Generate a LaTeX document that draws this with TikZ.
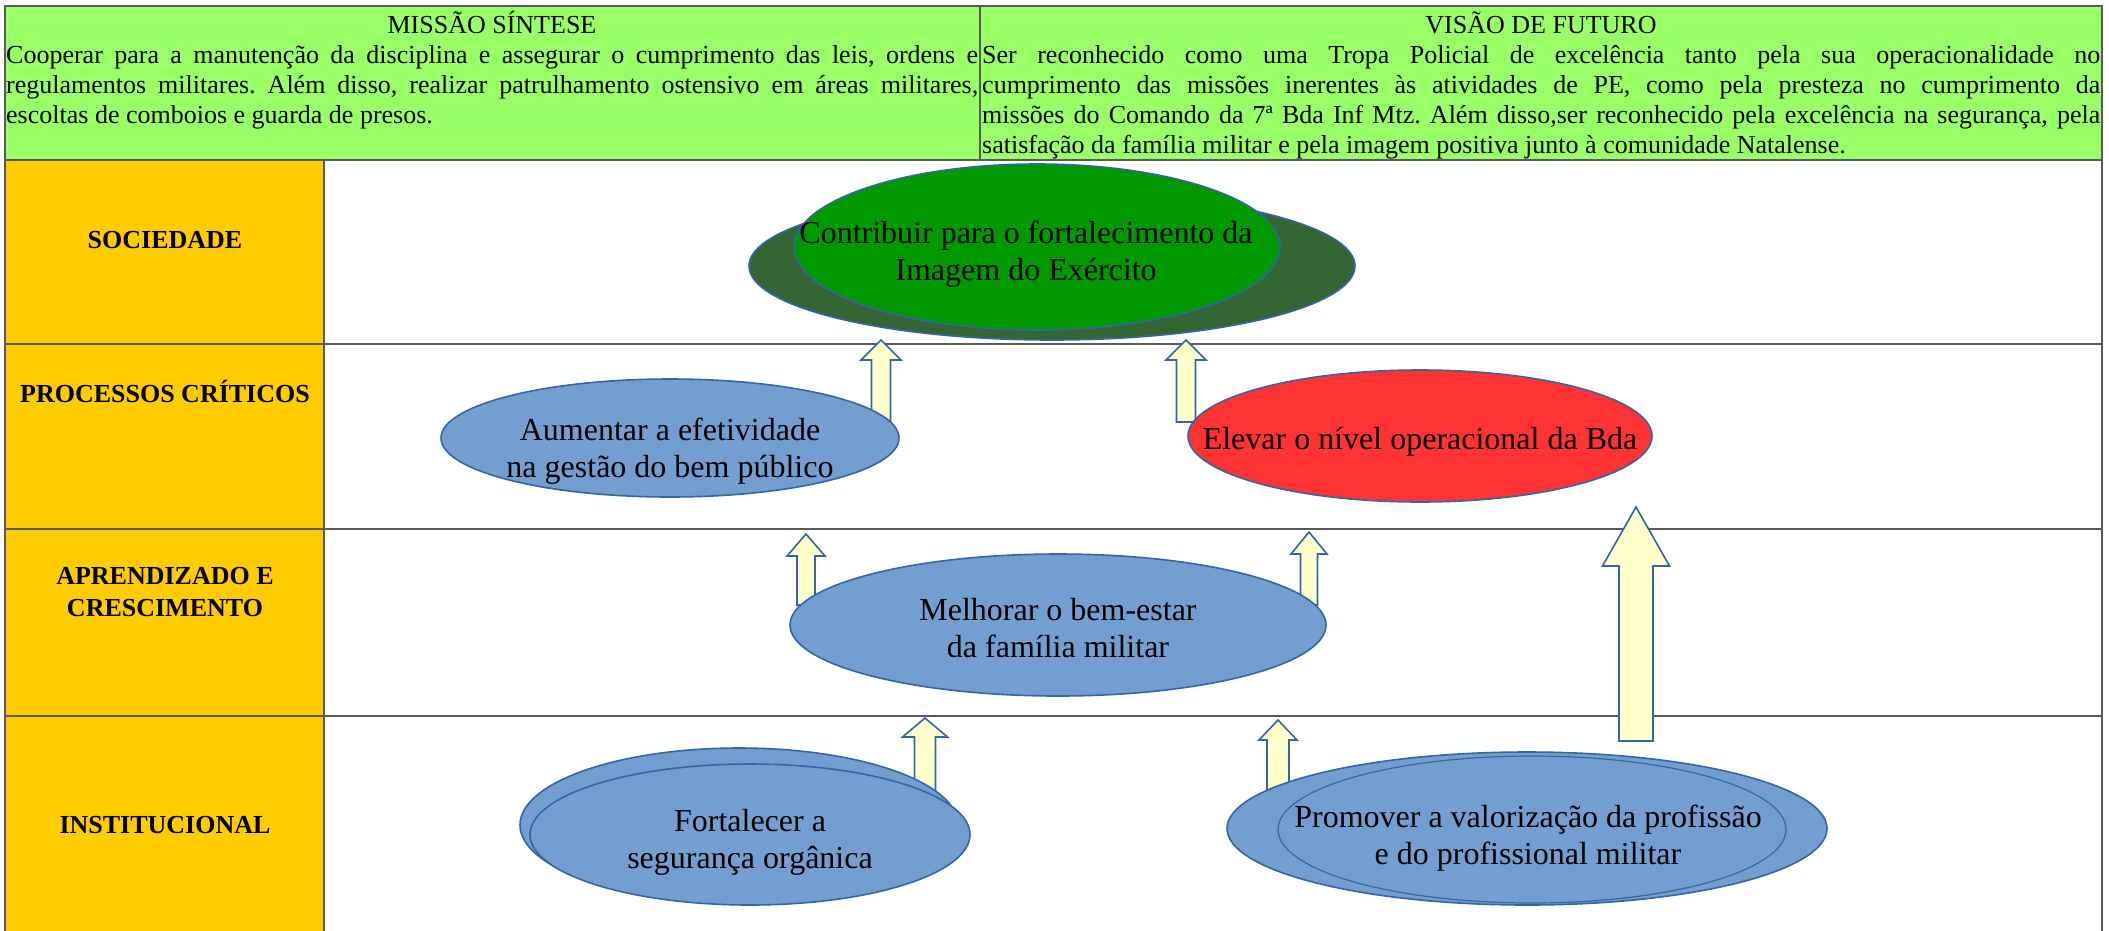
\documentclass[tikz,border=0pt]{standalone}
\usepackage{fontspec}
\setmainfont{Liberation Serif}
\usepackage{tikz}
\usetikzlibrary{shapes.geometric,calc}
\pgfdeclarelayer{bg}
\pgfsetlayers{bg,main}
\frenchspacing

\definecolor{hdrgreen}{HTML}{99FF66}
\definecolor{rowyellow}{HTML}{FFCC00}
\definecolor{soldark}{HTML}{336633}
\definecolor{solgreen}{HTML}{009900}
\definecolor{objblue}{HTML}{729FCF}
\definecolor{objline}{HTML}{3465A4}
\definecolor{objred}{HTML}{FF3333}
\definecolor{arrowfill}{HTML}{FFFFCC}
\definecolor{gridline}{HTML}{5A5A5A}

% one justified header line
\newcommand{\jline}[2]{\makebox[#1][s]{\strut#2}}
% upward block arrow: base, tip, shaft half width, head half width, head length
\newcommand{\blockup}[5]{%
  \draw[arrowbox] let \p1=(#1), \p2=(#2) in
    (\x1-#3pt,\y1) -- (\x1-#3pt,\y2-#5pt) -- (\x1-#4pt,\y2-#5pt) -- (\x2,\y2)
    -- (\x1+#4pt,\y2-#5pt) -- (\x1+#3pt,\y2-#5pt) -- (\x1+#3pt,\y1) -- cycle;}

\begin{document}
\begin{tikzpicture}[x=1pt,y=-1pt,
    goal/.style={ellipse, draw=objline, line width=1.6pt, inner sep=0pt},
    goaltext/.style={align=center, inner sep=0pt, font=\fontsize{32}{37}\selectfont},
    rowlabel/.style={align=center, inner sep=0pt, font=\bfseries\fontsize{26}{32}\selectfont},
    hdr/.style={inner sep=0pt, font=\fontsize{26}{30}\selectfont},
    grid/.style={draw=gridline, line width=1.3pt},
    arrowbox/.style={draw=objline, fill=arrowfill, line width=1.6pt}]
        \useasboundingbox (0,0) rectangle (2109,930);
        % header
        \node (missao) [hdr, anchor=base] at (492,33) {MISSÃO SÍNTESE};
        \node (visao) [hdr, anchor=base] at (1541,33) {VISÃO DE FUTURO};
        \node (missaotxt) [hdr, anchor=north west, align=left] at (6,42) {%
                \jline{972pt}{Cooperar para a manutenção da disciplina e assegurar o cumprimento das leis, ordens e}\\
                \jline{972pt}{regulamentos militares. Além disso, realizar patrulhamento ostensivo em áreas militares,}\\
                \strut escoltas de comboios e guarda de presos.};
        \node (visaotxt) [hdr, anchor=north west, align=left] at (982,42) {%
                \jline{1118pt}{Ser reconhecido como uma Tropa Policial de excelência tanto pela sua operacionalidade no}\\
                \jline{1118pt}{cumprimento das missões inerentes às atividades de PE, como pela presteza no cumprimento da}\\
                \jline{1118pt}{missões do Comando da 7ª Bda Inf Mtz. Além disso,ser reconhecido pela excelência na segurança, pela}\\
                \strut satisfação da família militar e pela imagem positiva junto à comunidade Natalense.};
        % perspectives
        \node (sociedade) [rowlabel, anchor=base] at (165,248) {SOCIEDADE};
        \node (processos) [rowlabel, anchor=base] at (165,402) {PROCESSOS CRÍTICOS};
        \node (aprendizado) [rowlabel] at (165,592) {APRENDIZADO E\\CRESCIMENTO};
        \node (institucional) [rowlabel, anchor=base] at (165,833) {INSTITUCIONAL};
        % objectives
        \node (socback) [goal, fill=soldark, minimum width=606, minimum height=148] at (1052,266) {};
        \node (imagem) [goal, fill=solgreen, minimum width=486, minimum height=166,
                label={[goaltext, xshift=-11pt, yshift=-7pt]center:{Contribuir para o fortalecimento da\\Imagem do Exército}}] at (1037,247) {};
        \node (gestao) [goal, fill=objblue, minimum width=458, minimum height=118,
                label={[goaltext, yshift=-13pt]center:{Aumentar a efetividade\\na gestão do bem público}}] at (670,438) {};
        \node (operacional) [goal, fill=objred, minimum width=464, minimum height=132,
                label={[goaltext, yshift=-6pt]center:{Elevar o nível operacional da Bda}}] at (1420,436) {};
        \node (familia) [goal, fill=objblue, minimum width=536, minimum height=142,
                label={[goaltext, yshift=-3pt]center:{Melhorar o bem-estar\\da família militar}}] at (1058,625) {};
        \node (segback) [goal, fill=objblue, minimum width=438, minimum height=154] at (739,825) {};
        \node (seguranca) [goal, fill=objblue, minimum width=440, minimum height=141,
                label={[goaltext, yshift=-8pt]center:{Fortalecer a\\segurança orgânica}}] at (750,834.5) {};
        \node (profback) [goal, fill=objblue, minimum width=600, minimum height=153] at (1527,828.5) {};
        \node (profissao) [goal, fill=objblue, line width=1.2pt, minimum width=508, minimum height=147,
                label={[goaltext, xshift=-4pt, yshift=-8.5pt]center:{Promover a valorização da profissão\\e do profissional militar}}] at (1532,829.5) {};
        % arrow ends
        \coordinate (g1) at (881,422);  \coordinate (i1) at (881,340);
        \coordinate (o1) at (1186,422); \coordinate (i2) at (1186,340);
        \coordinate (f1) at (806,605);  \coordinate (g2) at (806,534);
        \coordinate (f2) at (1309,605); \coordinate (o2) at (1309,532);
        \coordinate (s1) at (925,796);  \coordinate (f3) at (925,718);
        \coordinate (p1) at (1278,792); \coordinate (f4) at (1278,720);
        \coordinate (p2) at (1636,741); \coordinate (o3) at (1636,507);
        \begin{pgfonlayer}{bg}
                \fill[hdrgreen] (5,6) rectangle (2102,160);
                \fill[rowyellow] (5,160) rectangle (324,932);
                \draw[grid] (5,932) -- (5,6) -- (2102,6) -- (2102,932);
                \draw[grid] (980,6) -- (980,160);
                \draw[grid] (5,160) -- (2102,160);
                \draw[grid] (324,160) -- (324,932);
                \foreach \r in {344,529,716}
                        \draw[grid] (5,\r) -- (2102,\r);
                \blockup{g1}{i1}{9.5}{20}{20}
                \blockup{o1}{i2}{9.5}{20}{20}
                \blockup{f1}{g2}{9}{19}{22}
                \blockup{f2}{o2}{8.5}{18}{22}
                \blockup{s1}{f3}{10.5}{22.5}{19}
                \blockup{p1}{f4}{11}{19}{20}
                \blockup{p2}{o3}{17}{33.5}{59}
        \end{pgfonlayer}
\end{tikzpicture}
\end{document}
